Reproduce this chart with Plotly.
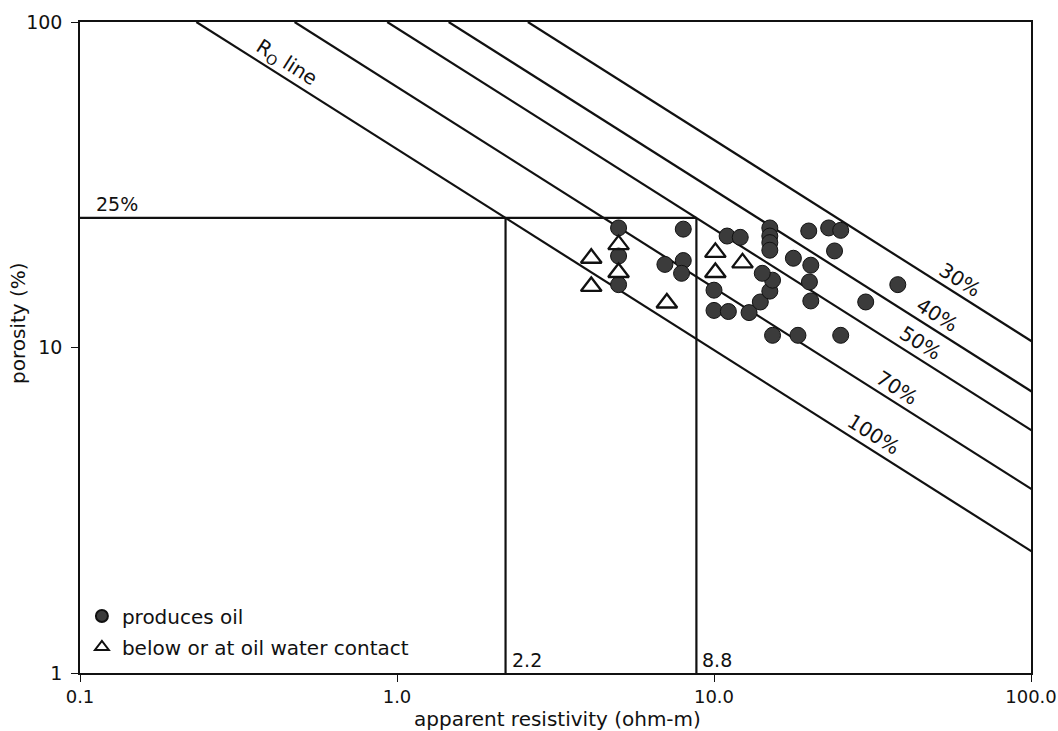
import numpy as np
import plotly.graph_objects as go

# Wells that produce oil: apparent resistivity (ohm-m) and porosity (%)
oil_rt = [5.0, 5.0, 5.0, 8.0, 7.0, 8.0, 7.9, 11.0, 12.1, 10.0, 10.0, 11.1,
          12.9, 14.0, 15.0, 15.3, 14.2, 15.0, 15.0, 15.0, 15.0, 19.9, 23.0,
          25.1, 24.0, 17.8, 20.2, 20.0, 20.2, 15.3, 18.4, 25.1, 30.1, 38.0]
oil_phi = [23.3, 19.1, 15.6, 23.1, 18.0, 18.5, 16.9, 22.0, 21.8, 15.0, 13.0, 12.9,
           12.8, 13.8, 14.9, 16.1, 16.9, 23.3, 22.0, 21.0, 19.9, 22.8, 23.3,
           22.9, 19.8, 18.8, 17.9, 15.9, 13.9, 10.9, 10.9, 10.9, 13.8, 15.6]

# Samples below or at the oil-water contact
owc_rt = [4.1, 4.1, 5.0, 5.0, 7.1, 10.1, 10.1, 12.3]
owc_phi = [18.8, 15.4, 20.7, 17.0, 13.7, 19.6, 17.0, 18.2]

# Archie-type water saturation lines: Rt = Ro(phi) / Sw^n
sw_levels = [1.0, 0.7, 0.5, 0.4, 0.3]
sw_labels = ["100%", "70%", "50%", "40%", "30%"]
label_rt = [30.1, 35.9, 42.4, 48.0, 56.7]
ro_rt_ref = 2.2        # Ro at the reference porosity
phi_ref = 25.0         # reference porosity (%)
m_exp = 1.62           # porosity exponent
n_exp = 2.0            # saturation exponent
cutoff_rt = [2.2, 8.8]

FONT = "DejaVu Sans"
INK = "#111111"
X0, X1 = 80, 1031
Y0, Y1 = 22, 673


def rt_for(phi, sw):
    return ro_rt_ref * (np.asarray(phi) / phi_ref) ** (-m_exp) / sw ** n_exp


def phi_for(rt, sw):
    return phi_ref * (rt * sw ** n_exp / ro_rt_ref) ** (-1.0 / m_exp)


fig = go.Figure()

# saturation lines
phi_end = np.array([100.0, 1.0])
for sw in sw_levels:
    fig.add_trace(go.Scatter(x=rt_for(phi_end, sw), y=phi_end, mode="lines",
                             line=dict(color=INK, width=2.2),
                             showlegend=False, hoverinfo="skip"))

# cutoff box: 25% porosity and resistivity cutoffs
fig.add_trace(go.Scatter(x=[0.1, cutoff_rt[1]], y=[phi_ref, phi_ref], mode="lines",
                         line=dict(color=INK, width=2.2),
                         showlegend=False, hoverinfo="skip"))
for r in cutoff_rt:
    fig.add_trace(go.Scatter(x=[r, r], y=[1, phi_ref], mode="lines",
                             line=dict(color=INK, width=2.2),
                             showlegend=False, hoverinfo="skip"))

fig.add_trace(go.Scatter(
    x=oil_rt, y=oil_phi, mode="markers", name="produces oil",
    marker=dict(symbol="circle", size=16, color="#3b3b3b",
                line=dict(color=INK, width=1)),
    legendgroup="a"))
fig.add_trace(go.Scatter(
    x=owc_rt, y=owc_phi, mode="markers", name="below or at oil water contact",
    marker=dict(symbol="triangle-up-open", size=18, color=INK,
                line=dict(color=INK, width=2.3)),
    legendgroup="b"))

# line labels placed just above each line, rotated along it
px_per_dec_x = (X1 - X0) / 3.0
px_per_dec_y = (Y1 - Y0) / 2.0
ang = np.degrees(np.arctan((1.0 / m_exp) * px_per_dec_y / px_per_dec_x))
nx, ny = np.sin(np.radians(ang)), np.cos(np.radians(ang))
off = 14
annotations = []
for sw, txt, rt in zip(sw_levels, sw_labels, label_rt):
    annotations.append(dict(
        x=np.log10(rt), y=np.log10(phi_for(rt, sw)), text=txt,
        showarrow=False, textangle=ang, xanchor="center", yanchor="middle",
        xshift=nx * off, yshift=ny * off,
        font=dict(family=FONT, size=20, color=INK)))
rt_ro = 0.425
annotations.append(dict(
    x=np.log10(rt_ro), y=np.log10(phi_for(rt_ro, 1.0)), text="R<sub>O</sub> line",
    showarrow=False, textangle=ang, xanchor="center", yanchor="middle",
    xshift=nx * off, yshift=ny * off,
    font=dict(family=FONT, size=20, color=INK)))

annotations.append(dict(x=-1, y=np.log10(phi_ref), text="25%", showarrow=False,
                        xanchor="left", yanchor="bottom", xshift=14, yshift=1,
                        font=dict(family=FONT, size=19, color=INK)))
for r, t in zip(cutoff_rt, ["2.2", "8.8"]):
    annotations.append(dict(x=np.log10(r), y=0, text=t, showarrow=False,
                            xanchor="left", yanchor="bottom", xshift=4, yshift=0,
                            font=dict(family=FONT, size=19, color=INK)))

annotations.append(dict(x=0.5, y=0, xref="paper", yref="paper",
                        text="apparent resistivity (ohm-m)", showarrow=False,
                        xanchor="center", yanchor="middle", yshift=-46, xshift=2,
                        font=dict(family=FONT, size=20, color=INK)))
annotations.append(dict(x=0, y=(Y1 - 323) / (Y1 - Y0), xref="paper", yref="paper",
                        text="porosity (%)", showarrow=False, textangle=-90,
                        xanchor="center", yanchor="middle", xshift=-62,
                        font=dict(family=FONT, size=20, color=INK)))

axis_common = dict(type="log", showgrid=False, zeroline=False, showline=True,
                   mirror=True, linecolor=INK, linewidth=1.5, automargin=False,
                   ticks="outside", ticklen=7, tickcolor=INK,
                   ticklabeloverflow="allow")

fig.update_layout(
    width=1058, height=731,
    margin=dict(l=X0, r=1058 - X1, t=Y0, b=731 - Y1),
    paper_bgcolor="white", plot_bgcolor="white",
    xaxis=dict(range=[-1, 2], tickvals=[0.1, 1, 10, 100],
               ticktext=["0.1", "1.0", "10.0", "100.0"],
               tickfont=dict(family=FONT, size=18, color=INK), **axis_common),
    yaxis=dict(range=[0, 2], tickvals=[1, 10, 100],
               ticktext=["1", "10", "100"], ticklabelstandoff=5,
               tickfont=dict(family=FONT, size=19, color=INK), **axis_common),
    legend=dict(x=0.002, y=0.01, xanchor="left", yanchor="bottom",
                bgcolor="rgba(0,0,0,0)", itemsizing="constant",
                traceorder="grouped", tracegroupgap=2,
                font=dict(family=FONT, size=20, color=INK)),
    annotations=annotations,
)

fig.write_html("out.html")
